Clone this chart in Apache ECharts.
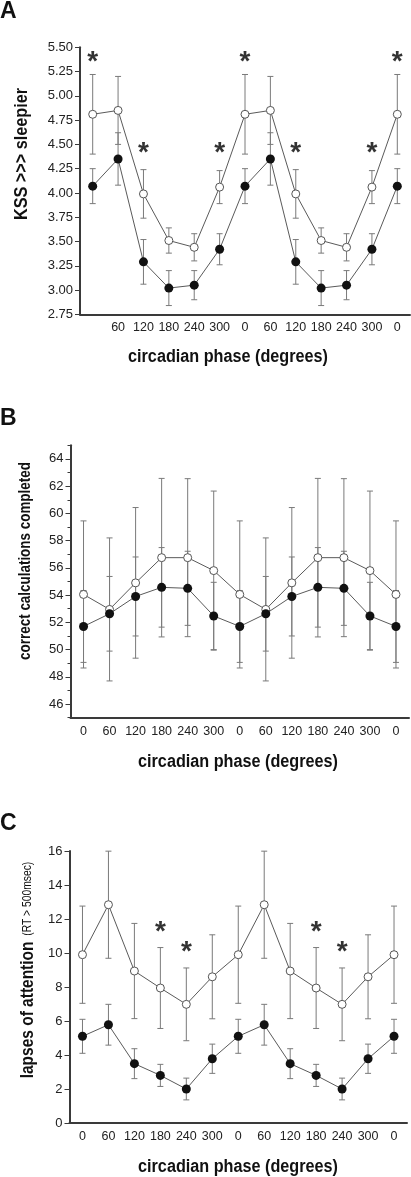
<!DOCTYPE html>
<html>
<head>
<meta charset="utf-8">
<script src="https://cdn.jsdelivr.net/npm/echarts@6/dist/echarts.min.js"></script>
<style>
html,body{margin:0;padding:0;background:#fff;}
#chart{width:411px;height:1177px;}
</style>
</head>
<body>
<div id="chart"></div>
<script>
// ---------- data ----------
const phaseLabels  = ['0','60','120','180','240','300','0','60','120','180','240','300','0'];
const phaseLabelsA = ['','60','120','180','240','300','0','60','120','180','240','300','0'];

// Panel A: KSS
const kssOpen      = [4.81,4.85,3.99,3.51,3.44,4.06,4.81,4.85,3.99,3.51,3.44,4.06,4.81];
const kssOpenErr   = [0.41,0.35,0.25,0.13,0.14,0.17,0.41,0.35,0.25,0.13,0.14,0.17,0.41];
const kssFilled    = [4.07,4.35,3.29,3.02,3.05,3.42,4.07,4.35,3.29,3.02,3.05,3.42,4.07];
const kssFilledErr = [0.18,0.27,0.23,0.18,0.15,0.16,0.18,0.27,0.23,0.18,0.15,0.16,0.18];
const kssStars     = [[0,5.42],[2,4.48],[5,4.48],[6,5.42],[8,4.48],[11,4.48],[12,5.42]];

// Panel B: correct calculations
const calcOpen      = [54.05,52.95,54.9,56.75,56.75,55.8,54.05,52.95,54.9,56.75,56.75,55.8,54.05];
const calcOpenErr   = [5.4,5.25,5.53,5.82,5.8,5.84,5.4,5.25,5.53,5.82,5.8,5.84,5.4];
const calcFilled    = [51.7,52.63,53.9,54.57,54.5,52.47,51.7,52.63,53.9,54.57,54.5,52.47,51.7];
const calcFilledErr = [2.64,2.74,2.9,2.92,2.72,2.47,2.64,2.74,2.9,2.92,2.72,2.47,2.64];
const calcMajorTicks = [46,48,50,52,54,56,58,60,62,64];
const calcMinorTicks = [45,47,49,51,53,55,57,59,61,63,65];

// Panel C: lapses
const lapseOpen      = [9.9,12.84,8.94,7.94,6.98,8.6,9.9,12.84,8.94,7.94,6.98,8.6,9.9];
const lapseOpenErr   = [2.86,3.15,2.8,2.38,2.14,2.47,2.86,3.15,2.8,2.38,2.14,2.47,2.86];
const lapseFilled    = [5.1,5.78,3.49,2.8,2.0,3.78,5.1,5.78,3.49,2.8,2.0,3.78,5.1];
const lapseFilledErr = [1.0,1.2,0.88,0.65,0.64,0.86,1.0,1.2,0.88,0.65,0.64,0.86,1.0];
const lapseStars     = [[3,11.65],[4,10.47],[9,11.65],[10,10.47]];

// ---------- style ----------
const FONT = '"Liberation Sans",Arial,sans-serif';
const BOLD18 = 'bold 18px "Liberation Sans",Arial,sans-serif';
const BOLD17 = 'bold 17px "Liberation Sans",Arial,sans-serif';
const AX = '#3a3a3a';
const LINE = '#5a5a5a';
const ERR = '#7a7a7a';

function errData(v, e){ return v.map((x,i)=>[i, x-e[i], x+e[i]]); }

function errSeries(xi, yi, data){
  return {
    type:'custom', xAxisIndex:xi, yAxisIndex:yi, z:1, silent:true,
    renderItem:function(params, api){
      const x = api.value(0), lo = api.value(1), hi = api.value(2);
      const pt = api.coord([x, hi]), pb = api.coord([x, lo]);
      const w = 3;
      const st = {stroke:ERR, lineWidth:1};
      return {type:'group', children:[
        {type:'line', shape:{x1:pt[0],y1:pt[1],x2:pb[0],y2:pb[1]}, style:st},
        {type:'line', shape:{x1:pt[0]-w,y1:pt[1],x2:pt[0]+w,y2:pt[1]}, style:st},
        {type:'line', shape:{x1:pb[0]-w,y1:pb[1],x2:pb[0]+w,y2:pb[1]}, style:st}
      ]};
    },
    data:data
  };
}
function lineSeries(xi, yi, data, open){
  return {
    type:'line', xAxisIndex:xi, yAxisIndex:yi, z:3, silent:true,
    data:data, symbol:'circle', symbolSize: open?8:9,
    lineStyle:{color:LINE, width:1},
    itemStyle: open ? {color:'#fff', borderColor:'#555', borderWidth:1} : {color:'#111', borderColor:'#111', borderWidth:0},
    animation:false
  };
}
function starSeries(xi, yi, data){
  return {
    type:'scatter', xAxisIndex:xi, yAxisIndex:yi, z:4, silent:true,
    data:data, symbolSize:1, itemStyle:{color:'rgba(0,0,0,0)'},
    label:{show:true, position:'inside', formatter:'*', fontSize:28, fontWeight:'bold', color:'#000',
      textBorderWidth:0, textBorderColor:'transparent', fontFamily:FONT, offset:[0,7]}
  };
}
function xAxis(gi, labels){
  return {
    type:'category', gridIndex:gi, data:labels, boundaryGap:true,
    axisLine:{lineStyle:{color:AX, width:2}},
    axisTick:{alignWithLabel:true, length:5, lineStyle:{color:AX, width:1}},
    axisLabel:{interval:0, margin:7, fontSize:12.5, color:'#222', fontFamily:FONT},
    splitLine:{show:false}
  };
}
function yAxisBase(gi, extra){
  return Object.assign({
    type:'value', gridIndex:gi, position:'left',
    axisLine:{show:true, lineStyle:{color:AX, width:2}},
    axisTick:{show:true, length:5, lineStyle:{color:AX, width:1}},
    axisLabel:{margin:7, fontSize:13, color:'#222', fontFamily:FONT},
    splitLine:{show:false}
  }, extra);
}

const chart = echarts.init(document.getElementById('chart'), null, {renderer:'canvas', width:411, height:1177});

const option = {
  animation:false,
  backgroundColor:'#fff',
  grid:[
    {left:80, right:1, top:47.3, height:267},
    {left:70.5, right:2, top:445.3, height:272.4},
    {left:69.5, right:4, top:851, height:272}
  ],
  xAxis:[ xAxis(0, phaseLabelsA), xAxis(1, phaseLabels), xAxis(2, phaseLabels) ],
  yAxis:[
    yAxisBase(0, {min:2.75, max:5.5, interval:0.25, axisLabel:{margin:7, fontSize:13, color:'#222', fontFamily:FONT, formatter:v=>v.toFixed(2)}}),
    yAxisBase(1, {min:45, max:65,
      axisLabel:{margin:7, fontSize:13, color:'#222', fontFamily:FONT, customValues:calcMajorTicks},
      axisTick:{show:true, length:5, lineStyle:{color:AX, width:1}, customValues:calcMajorTicks}}),
    yAxisBase(1, {min:45, max:65, axisLine:{show:false},
      axisLabel:{show:false},
      axisTick:{show:true, length:3, lineStyle:{color:AX, width:1}, customValues:calcMinorTicks}}),
    yAxisBase(2, {min:0, max:16, interval:2})
  ],
  series:[
    errSeries(0,0,errData(kssOpen,kssOpenErr)),
    errSeries(0,0,errData(kssFilled,kssFilledErr)),
    lineSeries(0,0,kssOpen,true),
    lineSeries(0,0,kssFilled,false),
    starSeries(0,0,kssStars),

    errSeries(1,1,errData(calcOpen,calcOpenErr)),
    errSeries(1,1,errData(calcFilled,calcFilledErr)),
    lineSeries(1,1,calcOpen,true),
    lineSeries(1,1,calcFilled,false),

    errSeries(2,3,errData(lapseOpen,lapseOpenErr)),
    errSeries(2,3,errData(lapseFilled,lapseFilledErr)),
    lineSeries(2,3,lapseOpen,true),
    lineSeries(2,3,lapseFilled,false),
    starSeries(2,3,lapseStars)
  ],
  graphic:[
    {type:'text', left:0, top:0, style:{text:'A', font:'bold 23px "Liberation Sans",Arial,sans-serif', fill:'#111'}},
    {type:'text', left:0, top:407, style:{text:'B', font:'bold 23px "Liberation Sans",Arial,sans-serif', fill:'#111'}},
    {type:'text', left:0, top:812, style:{text:'C', font:'bold 23px "Liberation Sans",Arial,sans-serif', fill:'#111'}},

    {type:'text', x:228, y:357, scaleX:0.9, style:{text:'circadian phase (degrees)', font:BOLD18, fill:'#111', align:'center', verticalAlign:'middle'}},
    {type:'text', x:238, y:762, scaleX:0.9, style:{text:'circadian phase (degrees)', font:BOLD18, fill:'#111', align:'center', verticalAlign:'middle'}},
    {type:'text', x:238, y:1167, scaleX:0.9, style:{text:'circadian phase (degrees)', font:BOLD18, fill:'#111', align:'center', verticalAlign:'middle'}},

    {type:'text', x:22, y:154, rotation:Math.PI/2, scaleX:0.9, style:{text:'KSS >>> sleepier', font:BOLD18, fill:'#111', align:'center', verticalAlign:'middle'}},
    {type:'text', x:25, y:561, rotation:Math.PI/2, scaleX:0.79, style:{text:'correct calculations completed', font:BOLD17, fill:'#111', align:'center', verticalAlign:'middle'}},
    {type:'text', x:28, y:970, rotation:Math.PI/2, scaleX:0.86, style:{
      text:'{a|lapses of attention}  {b|(RT > 500msec)}', align:'center', verticalAlign:'middle',
      rich:{
        a:{font:BOLD18, fill:'#111'},
        b:{font:'12px "Liberation Sans",Arial,sans-serif', fill:'#111'}
      }}}
  ]
};
chart.setOption(option);
</script>
</body>
</html>
